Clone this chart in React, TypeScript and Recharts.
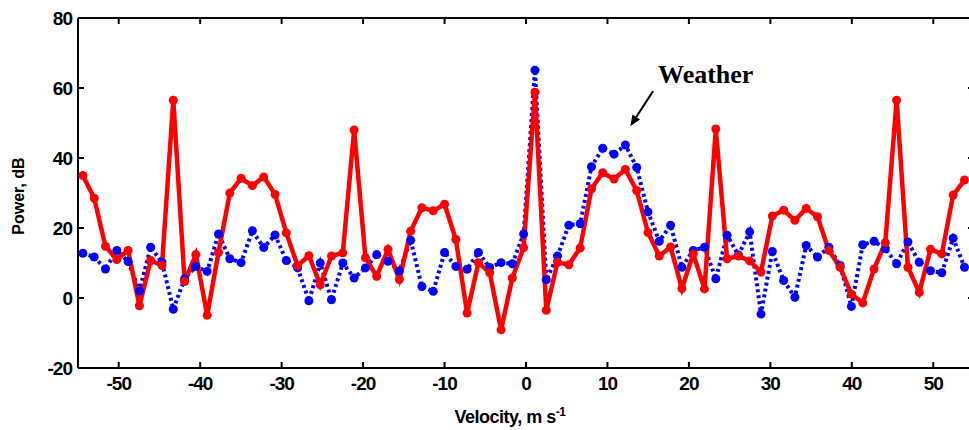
import React from "react";
import { LineChart, Line, XAxis, YAxis, ReferenceLine } from "recharts";

// Doppler velocity bins (m/s)
const velocity = [
  -54.4, -53.01, -51.63, -50.24, -48.85, -47.46, -46.08, -44.69, -43.3, -41.91,
  -40.53, -39.14, -37.75, -36.36, -34.98, -33.59, -32.2, -30.81, -29.43, -28.04,
  -26.65, -25.26, -23.88, -22.49, -21.1, -19.71, -18.33, -16.94, -15.55, -14.16,
  -12.78, -11.39, -10.0, -8.61, -7.23, -5.84, -4.45, -3.06, -1.68, -0.29,
  1.1, 2.49, 3.87, 5.26, 6.65, 8.04, 9.42, 10.81, 12.2, 13.59,
  14.98, 16.36, 17.75, 19.14, 20.53, 21.91, 23.3, 24.69, 26.08, 27.46,
  28.85, 30.24, 31.63, 33.01, 34.4, 35.79, 37.18, 38.56, 39.95, 41.34,
  42.73, 44.11, 45.5, 46.89, 48.28, 49.66, 51.05, 52.44, 53.83,
];

// Power, dB – blue dotted series
const bluePower = [
  12.8, 11.7, 8.3, 13.6, 10.4, 2.0, 14.5, 10.2, -3.2, 5.5,
  9.0, 7.6, 18.3, 11.2, 10.1, 19.2, 14.4, 18.0, 10.7, 8.6,
  -0.8, 10.0, -0.5, 10.0, 5.7, 8.6, 12.4, 10.5, 7.7, 16.5,
  3.3, 1.9, 13.0, 9.0, 8.2, 13.0, 8.7, 10.1, 9.8, 18.3,
  65.1, 5.2, 12.0, 20.8, 21.2, 37.5, 42.8, 41.1, 43.7, 37.3,
  24.6, 16.2, 20.8, 8.8, 13.6, 14.5, 5.5, 17.9, 12.3, 18.9,
  -4.6, 13.3, 5.0, 0.2, 15.0, 11.7, 14.5, 9.3, -2.4, 15.2,
  16.2, 14.1, 9.8, 16.0, 10.2, 7.8, 7.2, 17.1, 8.8,
];

// Power, dB – red solid series
const redPower = [
  35.0, 28.5, 14.8, 11.0, 13.6, -2.2, 10.7, 9.3, 56.5, 4.7,
  12.4, -4.9, 13.0, 30.0, 34.2, 32.1, 34.6, 29.6, 18.6, 9.2,
  12.1, 3.8, 12.0, 12.9, 48.0, 11.5, 6.2, 13.9, 5.3, 19.1,
  25.8, 24.9, 26.8, 16.7, -4.3, 10.1, 7.2, -9.1, 5.7, 14.4,
  58.8, -3.5, 10.2, 9.5, 14.3, 31.2, 35.8, 34.0, 36.7, 30.7,
  18.7, 12.0, 14.6, 2.7, 12.6, 2.6, 48.3, 11.2, 12.0, 10.6,
  7.4, 23.4, 25.1, 22.2, 25.6, 23.2, 13.6, 8.8, 1.1, -1.4,
  8.3, 15.8, 56.5, 8.8, 1.6, 13.9, 12.6, 29.4, 33.7,
];

const xTicks = [-50, -40, -30, -20, -10, 0, 10, 20, 30, 40, 50];
const yTicks = [-20, 0, 20, 40, 60, 80];
const xDomain = [-55, 55];
const yDomain = [-20, 80];

// annotation arrow (data coords): start, end
const arrowStart = { x: 15.6, y: 59.1 };
const arrowEnd = { x: 12.8, y: 49.1 };
const annotationText = "Weather";

const data = velocity.map((v, i) => ({ v, blue: bluePower[i], red: redPower[i] }));

const SANS = "'Liberation Sans', Arial, Helvetica, sans-serif";
const SERIF = "'Liberation Serif', 'Times New Roman', serif";

const XTick = (props: any) => {
  const { x, y, payload } = props;
  return (
    <text x={x} y={y + 14} textAnchor="middle" fontFamily={SANS} fontWeight="bold" fontSize={19} letterSpacing={-1} fill="#000">
      {payload.value}
    </text>
  );
};

const YTick = (props: any) => {
  const { x, y, payload } = props;
  return (
    <text x={x + 2} y={y + 7} textAnchor="end" fontFamily={SANS} fontWeight="bold" fontSize={19} letterSpacing={-1} fill="#000">
      {payload.value}
    </text>
  );
};

const EmptyTick = () => <g />;

const XTitle = (props: any) => {
  const vb = props.viewBox || { x: 0, y: 0, width: 0, height: 0 };
  const cx = vb.x + vb.width / 2 - 16;
  return (
    <text x={cx} y={vb.y + 55} textAnchor="middle" fontFamily={SANS} fontWeight="bold" fontSize={18} letterSpacing={-0.5} fill="#000">
      Velocity, m s
      <tspan dy={-7} fontSize={12}>-1</tspan>
    </text>
  );
};

const YTitle = () => {
  const cx = 18;
  const cy = 196;
  return (
    <text x={cx} y={cy} transform={`rotate(-90, ${cx}, ${cy})`} textAnchor="middle" dominantBaseline="central" fontFamily={SANS} fontWeight="bold" fontSize={16} fill="#000">
      Power, dB
    </text>
  );
};

const ArrowShape = (props: any) => {
  const { x1, y1, x2, y2 } = props;
  if ([x1, y1, x2, y2].some((n) => typeof n !== "number" || isNaN(n))) return null;
  const ang = Math.atan2(y2 - y1, x2 - x1);
  const len = 11;
  const half = 4.5;
  const bx = x2 - len * Math.cos(ang);
  const by = y2 - len * Math.sin(ang);
  const px = -Math.sin(ang) * half;
  const py = Math.cos(ang) * half;
  return (
    <g>
      <line x1={x1} y1={y1} x2={bx} y2={by} stroke="#000" strokeWidth={2} />
      <polygon points={`${x2},${y2} ${bx + px},${by + py} ${bx - px},${by - py}`} fill="#000" />
      <text x={x1 + 5} y={y1 - 8} fontFamily={SERIF} fontWeight="bold" fontSize={26} fill="#000">
        {annotationText}
      </text>
    </g>
  );
};

const tickStroke = { stroke: "#000", strokeWidth: 2 };

export default function App() {
  return (
    <div style={{ position: "absolute", left: 0, top: 0, width: 969, height: 430, overflow: "hidden", background: "#fff" }}>
      <LineChart width={980} height={430} data={data} margin={{ top: 18, right: 6, bottom: 0, left: 0 }}>
        <XAxis
          xAxisId="x"
          dataKey="v"
          type="number"
          domain={xDomain}
          allowDataOverflow
          ticks={xTicks}
          tickLine={false}
          axisLine={tickStroke}
          tick={<XTick />}
          height={62}
          label={<XTitle />}
        />
        <XAxis
          xAxisId="xb"
          dataKey="v"
          type="number"
          domain={xDomain}
          allowDataOverflow
          ticks={xTicks}
          orientation="bottom"
          mirror
          tick={<EmptyTick />}
          tickSize={6}
          tickLine={tickStroke}
          axisLine={false}
        />
        <XAxis
          xAxisId="xt"
          dataKey="v"
          type="number"
          domain={xDomain}
          allowDataOverflow
          ticks={xTicks}
          orientation="top"
          mirror
          tick={<EmptyTick />}
          tickSize={6}
          tickLine={tickStroke}
          axisLine={tickStroke}
        />
        <YAxis
          yAxisId="y"
          type="number"
          domain={yDomain}
          allowDataOverflow
          ticks={yTicks}
          width={78}
          tickLine={false}
          axisLine={tickStroke}
          tick={<YTick />}
          label={<YTitle />}
        />
        <YAxis
          yAxisId="yl"
          type="number"
          domain={yDomain}
          allowDataOverflow
          ticks={yTicks}
          orientation="left"
          mirror
          tick={<EmptyTick />}
          tickSize={6}
          tickLine={tickStroke}
          axisLine={false}
        />
        <YAxis
          yAxisId="yr"
          type="number"
          domain={yDomain}
          allowDataOverflow
          ticks={yTicks}
          orientation="right"
          mirror
          tick={<EmptyTick />}
          tickSize={6}
          tickLine={tickStroke}
          axisLine={tickStroke}
        />
        <Line
          xAxisId="x"
          yAxisId="y"
          type="linear"
          dataKey="blue"
          stroke="#0000ff"
          strokeWidth={4}
          strokeDasharray="3 3"
          dot={{ r: 4.5, fill: "#0000ff", stroke: "none" }}
          activeDot={false}
          isAnimationActive={false}
        />
        <Line
          xAxisId="x"
          yAxisId="y"
          type="linear"
          dataKey="red"
          stroke="#ff0000"
          strokeWidth={4.5}
          dot={{ r: 4.5, fill: "#ff0000", stroke: "none" }}
          activeDot={false}
          isAnimationActive={false}
        />
        <ReferenceLine
          xAxisId="x"
          yAxisId="y"
          segment={[arrowStart, arrowEnd]}
          ifOverflow="visible"
          shape={<ArrowShape />}
        />
      </LineChart>
    </div>
  );
}
